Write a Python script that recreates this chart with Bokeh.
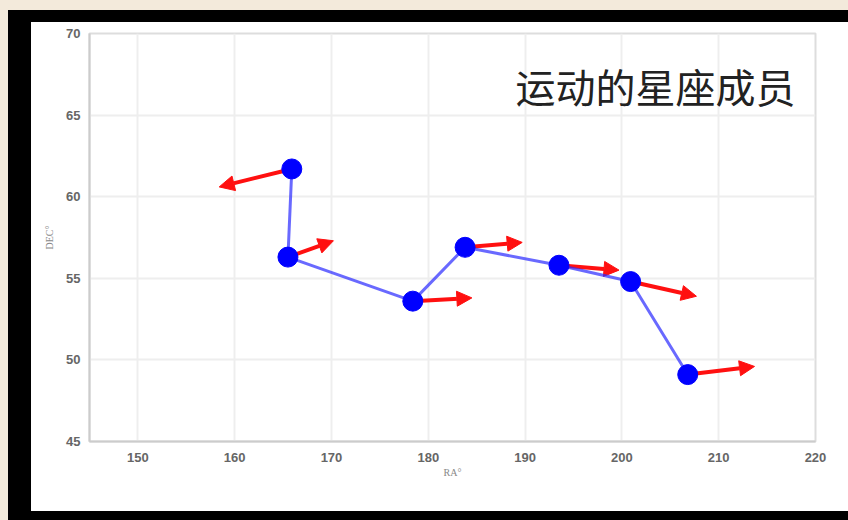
from bokeh.plotting import figure
from bokeh.models import ColumnDataSource, Arrow, NormalHead, Label, FixedTicker, Spacer
from bokeh.layouts import column, row
from bokeh.embed import file_html
from bokeh.resources import INLINE

# data
ra = [165.9, 165.5, 178.4, 183.8, 193.5, 200.9, 206.8]
dec = [61.7, 56.3, 53.6, 56.9, 55.8, 54.8, 49.1]
d_ra = [-7.5, 4.7, 6.1, 5.9, 6.2, 6.8, 6.9]
d_dec = [-1.1, 1.0, 0.2, 0.3, -0.3, -0.9, 0.5]
x_ticks = [150, 160, 170, 180, 190, 200, 210, 220]
y_ticks = [45, 50, 55, 60, 65, 70]
title_text = "运动的星座成员"

src = ColumnDataSource(dict(
    ra=ra, dec=dec,
    ra_end=[a + b for a, b in zip(ra, d_ra)],
    dec_end=[a + b for a, b in zip(dec, d_dec)],
))

p = figure(width=828, height=489, x_range=(145, 220), y_range=(45, 70),
           output_backend="svg", toolbar_location=None,
           min_border_left=58, min_border_right=44, min_border_top=11, min_border_bottom=70)
p.border_fill_color = "white"
p.background_fill_color = "white"
p.outline_line_color = "#dddddd"
p.outline_line_width = 2

p.xaxis.ticker = FixedTicker(ticks=x_ticks)
p.yaxis.ticker = FixedTicker(ticks=y_ticks)
for ax in (p.xaxis[0], p.yaxis[0]):
    ax.axis_line_color = "#cccccc"
    ax.axis_line_width = 2
    ax.major_tick_line_color = None
    ax.minor_tick_line_color = None
    ax.major_label_text_font = "Liberation Sans"
    ax.major_label_text_font_size = "13px"
    ax.major_label_text_color = "#666666"
    ax.major_label_text_font_style = "bold"
    ax.axis_label_text_font = "Liberation Serif"
    ax.axis_label_text_font_size = "10px"
    ax.axis_label_text_font_style = "normal"
    ax.axis_label_text_color = "#888888"
p.xaxis.axis_label = "RA°"
p.yaxis.axis_label = "DEC°"
p.xaxis.major_label_standoff = 5
p.yaxis.major_label_standoff = 3
p.xaxis.axis_label_standoff = 2
p.yaxis.axis_label_standoff = 8

p.grid.grid_line_color = "#eeeeee"
p.grid.grid_line_width = 2

arrows = Arrow(source=src, x_start="ra", y_start="dec", x_end="ra_end", y_end="dec_end",
               line_color="#ff1010", line_width=4,
               end=NormalHead(size=15, fill_color="#ff1010", line_color="#ff1010"))
p.add_layout(arrows)

ln = p.line("ra", "dec", source=src, line_color="#2a2aff", line_alpha=0.7, line_width=3)
ln.level = "overlay"
pts = p.scatter("ra", "dec", source=src, size=20, fill_color="#0000ff", line_color="#0000ff")
pts.level = "overlay"

title = Label(x=706, y=356, x_units="screen", y_units="screen", text=title_text,
              text_align="right", text_baseline="middle", text_font="Noto Sans CJK SC",
              text_font_size="40px", text_color="#222222")
p.add_layout(title)

BEIGE = "#f3eadb"
BLACK = "#000000"


def band(w, h, color):
    return Spacer(width=w, height=h, styles={"background-color": color})


middle = row(band(23, 489, BLACK), p, spacing=0)
inner = column(band(851, 12, BLACK), middle, band(851, 9, BLACK), spacing=0)
body = row(band(8, 510, BEIGE), inner, spacing=0)
page = column(band(859, 10, BEIGE), body, spacing=0)

open("out.html", "w").write(file_html(page, INLINE))
